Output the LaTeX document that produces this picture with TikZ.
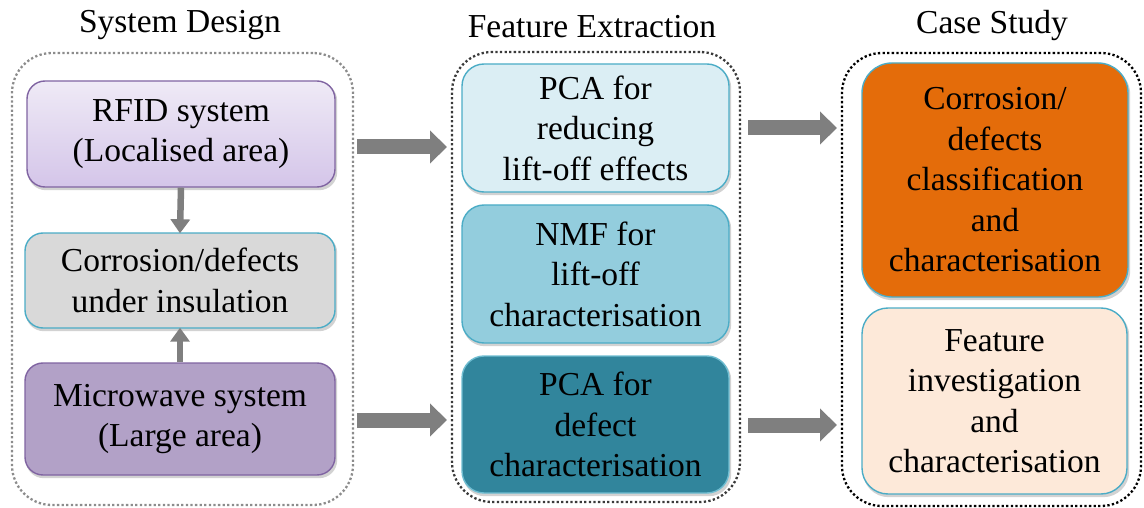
\documentclass[tikz,border=0pt]{standalone}
\usepackage{fontspec}
\setmainfont{Liberation Serif}
\usetikzlibrary{arrows.meta,backgrounds}

\definecolor{purpleedge}{HTML}{8064A2}
\definecolor{rfidtop}{HTML}{EFEAF6}
\definecolor{rfidbot}{HTML}{D4C5E9}
\definecolor{greyfill}{HTML}{D9D9D9}
\definecolor{tealedge}{HTML}{4BACC6}
\definecolor{microfill}{HTML}{B2A1C7}
\definecolor{palecyan}{HTML}{DBEEF4}
\definecolor{midcyan}{HTML}{93CDDD}
\definecolor{deepteal}{HTML}{31859C}
\definecolor{orangefill}{HTML}{E46C0A}
\definecolor{peachfill}{HTML}{FDE9D9}
\definecolor{arrowgrey}{HTML}{7F7F7F}
\definecolor{dotgrey}{HTML}{8C8C8C}
\definecolor{dotdark}{HTML}{3A3A3A}
\definecolor{shadowgrey}{HTML}{D2D2D2}

\tikzset{
  box/.style={draw, line width=1.4pt, align=center, inner sep=2pt,
    font=\fontsize{33.5}{40.5}\selectfont},
  boxshadow/.style={fill=shadowgrey, rounded corners=#1},
  group/.style={line width=2.3pt, dash pattern=on 2.3pt off 2.3pt,
    rounded corners=40pt, minimum width=#1},
  title/.style={font=\fontsize{33.5}{40}\selectfont},
  smallarrow/.style={draw=arrowgrey, line width=6.5pt,
    -{Triangle[length=14pt,width=19pt]}, shorten >=-1pt},
  blockarrow/.style={draw=arrowgrey, line width=15pt,
    -{Triangle[length=17pt,width=32pt]}},
}

\begin{document}
\begin{tikzpicture}[x=1pt,y=-1pt]
\useasboundingbox (0,0) rectangle (1144,508);

% column frames
\node[group=341pt, draw=dotgrey, minimum height=452pt] (grpL) at (182.5,279) {};
\node[group=288pt, draw=dotdark, minimum height=450pt] (grpM) at (596,277) {};
\node[group=299pt, draw=black, minimum height=453pt] (grpR) at (991.5,279.5) {};

% column titles
\node[title] (tL) at (180,25) {System Design};
\node[title] (tM) at (592,27) {Feature Extraction};
\node[title] (tR) at (992,25) {Case Study};

% system design
\node[box, draw=purpleedge, top color=rfidtop, bottom color=rfidbot,
  rounded corners=18pt, minimum width=308pt, minimum height=106pt]
  (rfid) at (181,134) {RFID system\\(Localised area)};
\node[box, draw=tealedge, fill=greyfill, rounded corners=18pt,
  minimum width=310pt, minimum height=95pt]
  (cui) at (180,280.5) {Corrosion/defects\\under insulation};
\node[box, draw=purpleedge, fill=microfill, rounded corners=18pt,
  minimum width=310pt, minimum height=112pt]
  (micro) at (180,419) {Microwave system\\(Large area)};

% feature extraction
\node[box, draw=tealedge, fill=palecyan, rounded corners=22pt,
  minimum width=267pt, minimum height=128pt]
  (pcalift) at (595.5,128) {PCA for\\reducing\\lift-off effects};
\node[box, draw=tealedge, fill=midcyan, rounded corners=22pt,
  minimum width=267pt, minimum height=138pt]
  (nmf) at (595.5,274) {NMF for\\lift-off\\characterisation};
\node[box, draw=tealedge!80!white, fill=deepteal, rounded corners=22pt,
  minimum width=267pt, minimum height=137pt]
  (pcadef) at (595.5,424.5) {PCA for\\defect\\characterisation};

% case study
\node[box, draw=tealedge, fill=orangefill, rounded corners=30pt,
  minimum width=266pt, minimum height=234pt]
  (cls) at (995,180) {Corrosion/\\defects\\classification\\and\\characterisation};
\node[box, draw=tealedge, fill=peachfill, rounded corners=26pt,
  minimum width=265pt, minimum height=186pt]
  (feat) at (994.5,401) {Feature\\investigation\\and\\characterisation};

% soft drop shadows behind the boxes
\begin{scope}[on background layer]
  \foreach \b/\r in {rfid/18pt, cui/18pt, micro/18pt, pcalift/22pt, nmf/22pt,
                     pcadef/22pt, cls/30pt, feat/26pt}{
    \fill[boxshadow=\r] ([shift={(1.5,2.5)}]\b.south west)
      rectangle ([shift={(1.5,2.5)}]\b.north east);
  }
\end{scope}

% links inside the first column
\draw[smallarrow] (rfid.south) -- (cui.north);
\draw[smallarrow] (micro.north) -- (cui.south);

% links between columns
\coordinate (a1s) at (357,147);
\coordinate (a1e) at (447,147);
\coordinate (a2s) at (357,420);
\coordinate (a2e) at (447,420);
\coordinate (a3s) at (748,128);
\coordinate (a3e) at (837,128);
\coordinate (a4s) at (748,425);
\coordinate (a4e) at (837,425);
\draw[blockarrow] (a1s) -- (a1e);
\draw[blockarrow] (a2s) -- (a2e);
\draw[blockarrow] (a3s) -- (a3e);
\draw[blockarrow] (a4s) -- (a4e);
\end{tikzpicture}
\end{document}
